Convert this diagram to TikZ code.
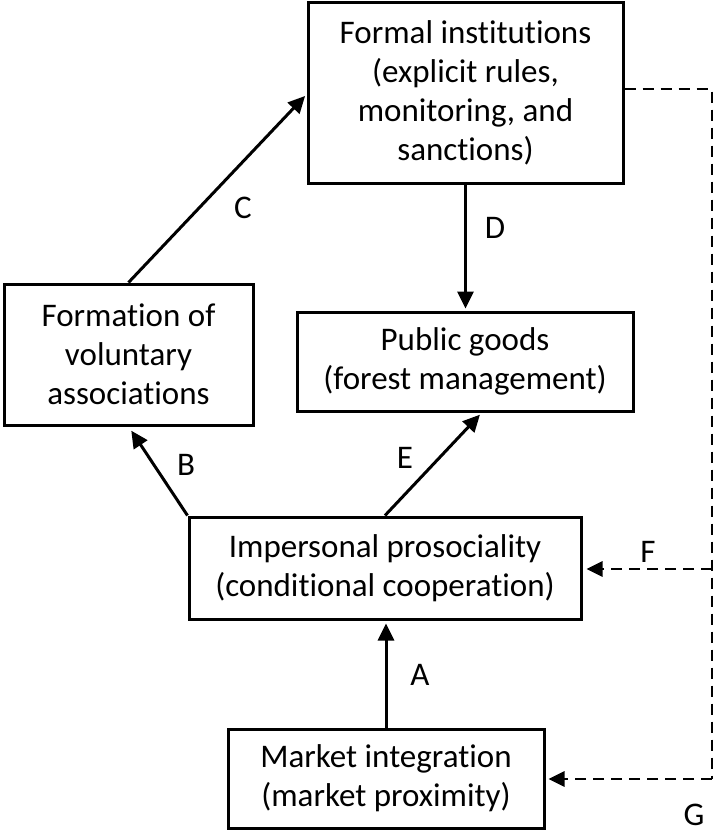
\documentclass[tikz,border=0pt]{standalone}
\usepackage{fontspec}
\setmainfont{Carlito}[Ligatures=NoCommon]
\usetikzlibrary{arrows.meta,calc}
\begin{document}
\begin{tikzpicture}[x=1pt,y=-1pt,
  box/.style={draw,line width=3pt,align=center,inner sep=0pt,font=\fontsize{33}{39}\selectfont},
  arr/.style={line width=3pt,-{Triangle[length=17pt,width=16pt]}},
  dsh/.style={line width=2.8pt,dash pattern=on 11pt off 7pt},
  darr/.style={dsh,-{Triangle[length=16pt,width=15pt]}},
  lbl/.style={inner sep=0pt,font=\fontsize{33}{39}\selectfont}]
\useasboundingbox (0,0) rectangle (714,833);
\node[box,minimum width=315pt,minimum height=181pt] (inst) at (465.5,92.5)
  {Formal institutions\\(explicit rules,\\monitoring, and\\sanctions)};
\node[box,minimum width=249pt,minimum height=141pt] (form) at (128.5,354.5)
  {Formation of\\voluntary\\associations};
\node[box,minimum width=336pt,minimum height=99pt] (pub) at (465,361.5)
  {Public goods\\(forest management)};
\node[box,minimum width=392pt,minimum height=102pt] (imp) at (385,568)
  {Impersonal prosociality\\(conditional cooperation)};
\node[box,minimum width=316pt,minimum height=99pt] (mkt) at (386,778.5)
  {Market integration\\(market proximity)};
% solid arrows
\draw[arr,shorten >=2pt] (form.north) -- ([yshift=-2pt]inst.west);
\draw[arr,shorten >=2pt] (inst.south) -- (inst.south |- pub.north);
\draw[arr,shorten >=5pt] (imp.north west) -- (form.south);
\draw[arr,shorten >=3pt] (imp.north) -- ([xshift=17pt]pub.south);
\draw[arr,shorten >=3pt] (mkt.north) -- (mkt.north |- imp.south);
% dashed feedback
\coordinate (tr) at (712,89);
\coordinate (br) at (712,779);
\coordinate (fj) at (712,569);
\draw[dsh] ([yshift=3.5pt]inst.east) -- (tr) -- (br);
\draw[darr,shorten >=3pt] (br) -- (br -| mkt.east);
\draw[darr,shorten >=4pt] (fj) -- (fj -| imp.east);
% labels
\node[lbl] (lC) at (243,208) {C};
\node[lbl] (lD) at (495,228) {D};
\node[lbl] (lB) at (186,465) {B};
\node[lbl] (lE) at (405,458) {E};
\node[lbl] (lA) at (420,675) {A};
\node[lbl] (lF) at (648,552) {F};
\node[lbl] (lG) at (694,815) {G};
\end{tikzpicture}
\end{document}
